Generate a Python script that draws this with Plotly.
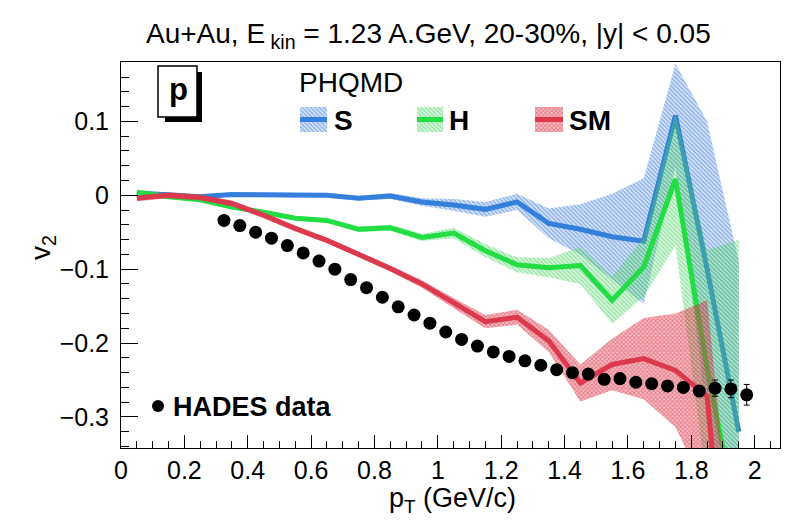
import plotly.graph_objects as go

# ---------------- data ----------------
pt_model = [0.05, 0.15, 0.25, 0.35, 0.45, 0.55, 0.65, 0.75, 0.85, 0.95,
            1.05, 1.15, 1.25, 1.35, 1.45, 1.55, 1.65, 1.75, 1.85, 1.95]

v2_S = [0.003, 0.000, -0.002, 0.001, 0.001, 0.000, 0.000, -0.004, -0.001, -0.009,
        -0.013, -0.019, -0.009, -0.038, -0.046, -0.056, -0.062, 0.108, -0.100, -0.320]
err_S = [0.003, 0.003, 0.003, 0.003, 0.003, 0.003, 0.003, 0.003, 0.004, 0.005,
         0.008, 0.010, 0.011, 0.020, 0.034, 0.058, 0.085, 0.070, 0.200, 0.230]

v2_H = [0.004, -0.002, -0.006, -0.016, -0.023, -0.031, -0.034, -0.046, -0.044, -0.057,
        -0.051, -0.075, -0.094, -0.098, -0.095, -0.142, -0.097, 0.022, -0.234, -0.450]
err_H = [0.003, 0.003, 0.003, 0.003, 0.003, 0.003, 0.003, 0.004, 0.004, 0.005,
         0.007, 0.009, 0.010, 0.013, 0.025, 0.032, 0.040, 0.090, 0.160, 0.390]

v2_SM = [-0.004, 0.000, -0.003, -0.011, -0.027, -0.045, -0.061, -0.080, -0.099, -0.120,
         -0.146, -0.171, -0.165, -0.197, -0.254, -0.229, -0.221, -0.237, -0.272, -0.730]
err_SM = [0.004, 0.004, 0.004, 0.004, 0.004, 0.004, 0.004, 0.004, 0.004, 0.005,
          0.007, 0.009, 0.010, 0.015, 0.025, 0.035, 0.055, 0.077, 0.130, 0.160]

pt_hades = [0.325, 0.375, 0.425, 0.475, 0.525, 0.575, 0.625, 0.675, 0.725, 0.775,
            0.825, 0.875, 0.925, 0.975, 1.025, 1.075, 1.125, 1.175, 1.225, 1.275,
            1.325, 1.375, 1.425, 1.475, 1.525, 1.575, 1.625, 1.675, 1.725, 1.775,
            1.825, 1.875, 1.925, 1.975]
v2_hades = [-0.034, -0.041, -0.050, -0.058, -0.068, -0.078, -0.089, -0.100, -0.114, -0.125,
            -0.138, -0.151, -0.162, -0.173, -0.185, -0.195, -0.204, -0.212, -0.218, -0.224,
            -0.230, -0.236, -0.240, -0.242, -0.249, -0.248, -0.253, -0.255, -0.258, -0.260,
            -0.265, -0.261, -0.262, -0.270]
err_hades = [0.002, 0.002, 0.002, 0.002, 0.002, 0.002, 0.002, 0.002, 0.002, 0.002,
             0.002, 0.002, 0.002, 0.002, 0.002, 0.003, 0.003, 0.003, 0.003, 0.003,
             0.003, 0.003, 0.003, 0.004, 0.004, 0.004, 0.004, 0.005, 0.005, 0.006,
             0.007, 0.011, 0.012, 0.014]

model_names = ["S", "H", "SM"]
x_ticks = [0, 0.2, 0.4, 0.6, 0.8, 1.0, 1.2, 1.4, 1.6, 1.8, 2.0]
y_ticks = [-0.3, -0.2, -0.1, 0.0, 0.1]

# ---------------- style ----------------
FONT = "Liberation Sans, Arial, Helvetica, sans-serif"
W, H = 790, 530
L, R, T, B = 121, 10, 62, 82
PW, PH = W - L - R, H - T - B

line_col = {"S": "#3580dc", "H": "#22dd44", "SM": "#dc3a4c"}
hatch_col = {"S": "rgba(55,120,215,0.95)", "H": "rgba(70,210,95,0.95)",
             "SM": "rgba(220,45,65,0.95)"}
hatch_bg = {"S": "rgba(55,120,215,0.18)", "H": "rgba(70,210,95,0.18)",
            "SM": "rgba(220,45,65,0.30)"}
hatch_shape = {"S": "\\", "H": "\\", "SM": "x"}
hatch_size = {"S": 3, "H": 3, "SM": 3}
hatch_solid = {"S": 0.5, "H": 0.5, "SM": 0.5}

series = {"S": (v2_S, err_S), "H": (v2_H, err_H), "SM": (v2_SM, err_SM)}


def fx(px):
    return (px - L) / PW


def fy(py):
    return (H - B - py) / PH


def pattern(name):
    return dict(shape=hatch_shape[name], fgcolor=hatch_col[name],
                bgcolor=hatch_bg[name], size=hatch_size[name],
                solidity=hatch_solid[name])


fig = go.Figure()

for name in model_names:
    v, e = series[name]
    upper = [a + b for a, b in zip(v, e)]
    lower = [a - b for a, b in zip(v, e)]
    fig.add_trace(go.Scatter(
        x=pt_model + pt_model[::-1], y=upper + lower[::-1],
        mode="none", fill="toself", fillcolor="rgba(0,0,0,0)",
        fillpattern=pattern(name), hoverinfo="skip", showlegend=False))
    fig.add_trace(go.Scatter(
        x=pt_model, y=v, mode="lines",
        line=dict(color=line_col[name], width=5),
        name=name, showlegend=False))

fig.add_trace(go.Scatter(
    x=pt_hades, y=v2_hades, mode="markers",
    marker=dict(color="black", size=13),
    error_y=dict(type="data", array=err_hades, color="black", thickness=1, width=3),
    name="HADES data", showlegend=False))

# legend swatches on an overlay axis spanning the plot area (0..1)
sw = {"S": (300, 327), "H": (417, 443), "SM": (535, 563)}
for name in model_names:
    x0, x1 = fx(sw[name][0]), fx(sw[name][1])
    y0, y1 = fy(132), fy(107)
    fig.add_trace(go.Scatter(
        x=[x0, x1, x1, x0, x0], y=[y0, y0, y1, y1, y0], xaxis="x2", yaxis="y2",
        mode="none", fill="toself", fillcolor="rgba(0,0,0,0)",
        fillpattern=pattern(name), hoverinfo="skip", showlegend=False))
    fig.add_trace(go.Scatter(
        x=[x0, x1], y=[fy(119.5), fy(119.5)], xaxis="x2", yaxis="y2",
        mode="lines", line=dict(color=line_col[name], width=5),
        hoverinfo="skip", showlegend=False))

fig.add_trace(go.Scatter(
    x=[fx(158)], y=[fy(406)], xaxis="x2", yaxis="y2", mode="markers",
    marker=dict(color="black", size=12), hoverinfo="skip", showlegend=False))

annotations = [
    dict(text="Au+Au, E<sub> kin</sub> = 1.23 A.GeV, 20-30%, |y| < 0.05",
         x=fx(428), y=fy(36), xref="paper", yref="paper", showarrow=False,
         font=dict(family=FONT, size=28, color="black"), xanchor="center", yanchor="middle"),
    dict(text="p<sub>T</sub> (GeV/c)", x=fx(452), y=fy(500), xref="paper", yref="paper",
         showarrow=False, font=dict(family=FONT, size=27, color="black"),
         xanchor="center", yanchor="middle"),
    dict(text="v<sub>2</sub>", x=fx(42), y=fy(248), xref="paper", yref="paper",
         showarrow=False, textangle=-90, font=dict(family=FONT, size=28, color="black"),
         xanchor="center", yanchor="middle"),
    dict(text="PHQMD", x=fx(297), y=fy(83), xref="paper", yref="paper", showarrow=False,
         font=dict(family=FONT, size=28, color="black"), xanchor="left", yanchor="middle"),
    dict(text="<b>p</b>", x=fx(178), y=fy(89), xref="paper", yref="paper", showarrow=False,
         font=dict(family=FONT, size=31, color="black"), xanchor="center", yanchor="middle"),
    dict(text="<b>HADES data</b>", x=fx(171), y=fy(407), xref="paper", yref="paper",
         showarrow=False, font=dict(family=FONT, size=27, color="black"),
         xanchor="left", yanchor="middle"),
]
for name, px in zip(model_names, [332, 447, 567]):
    annotations.append(dict(text=f"<b>{name}</b>", x=fx(px), y=fy(120), xref="paper",
                            yref="paper", showarrow=False,
                            font=dict(family=FONT, size=28, color="black"),
                            xanchor="left", yanchor="middle"))

shapes = [
    dict(type="rect", xref="paper", yref="paper", x0=fx(165), x1=fx(202), y0=fy(122), y1=fy(72),
         fillcolor="black", line=dict(width=0)),
    dict(type="rect", xref="paper", yref="paper", x0=fx(158), x1=fx(197), y0=fy(117), y1=fy(66),
         fillcolor="white", line=dict(color="black", width=1.5)),
]

axis_common = dict(showgrid=False, zeroline=False, showline=True, linecolor="black",
                   linewidth=1, mirror=True, ticks="inside", tickcolor="black",
                   tickfont=dict(family=FONT, size=25, color="black"))

fig.update_layout(
    width=W, height=H, margin=dict(l=L, r=R, t=T, b=B),
    paper_bgcolor="white", plot_bgcolor="white", showlegend=False,
    xaxis=dict(range=[0, 2.08], tickvals=x_ticks, ticklen=13, ticklabelstandoff=0,
               minor=dict(ticks="inside", dtick=0.05, tick0=0, ticklen=7, tickcolor="black"),
               **axis_common),
    yaxis=dict(range=[-0.342, 0.1804], tickvals=y_ticks, ticklen=17, ticklabelstandoff=6,
               minor=dict(ticks="inside", dtick=0.02, tick0=0, ticklen=8, tickcolor="black"),
               **axis_common),
    xaxis2=dict(range=[0, 1], overlaying="x", visible=False, anchor="y2"),
    yaxis2=dict(range=[0, 1], overlaying="y", visible=False, anchor="x2"),
    annotations=annotations, shapes=shapes,
)

fig.write_html("out.html")
